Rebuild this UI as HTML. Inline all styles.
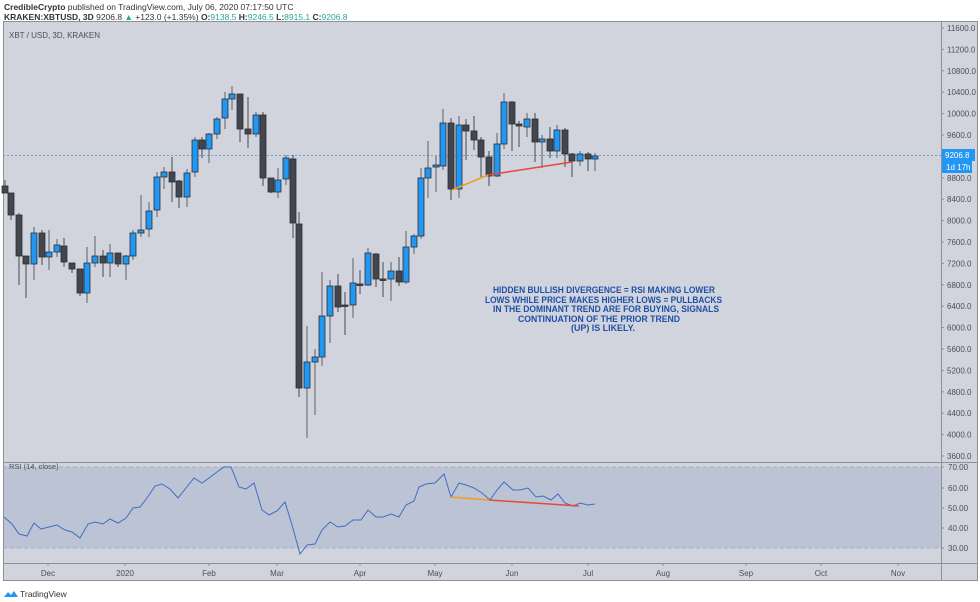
<!DOCTYPE html>
<html><head><meta charset="utf-8">
<style>
body{margin:0;background:#fff;width:980px;height:602px;overflow:hidden;font-family:"Liberation Sans",sans-serif;}
svg{position:absolute;left:0;top:0}
</style></head><body>
<svg id="s" width="980" height="602" xmlns="http://www.w3.org/2000/svg" font-family="Liberation Sans, sans-serif">
<rect x="0" y="0" width="980" height="602" fill="#ffffff"/>
<rect x="3" y="21" width="975" height="560" fill="#d1d4dc"/>
<rect x="3" y="467" width="938" height="81" fill="#bcc3d4"/>
<line x1="3" y1="467" x2="941" y2="467" stroke="#a8afc0" stroke-dasharray="4,3"/>
<line x1="3" y1="548" x2="941" y2="548" stroke="#a8afc0" stroke-dasharray="4,3"/>
<line x1="3" y1="462.5" x2="978" y2="462.5" stroke="#8c909a"/>
<line x1="3" y1="563.5" x2="978" y2="563.5" stroke="#8c909a"/>
<line x1="941.5" y1="21" x2="941.5" y2="581" stroke="#8c909a"/>
<rect x="3.5" y="21.5" width="974" height="559" fill="none" stroke="#8c909a"/>
<line x1="3" y1="155.5" x2="941" y2="155.5" stroke="#4a90d9" stroke-dasharray="2,2" stroke-width="0.8"/>
<g id="c"></g>
<line x1="452" y1="190" x2="488" y2="175" stroke="#f39c1e" stroke-width="1.5"/>
<line x1="488" y1="175" x2="572" y2="162" stroke="#e8473c" stroke-width="1.5"/>
<polyline id="rsi" fill="none" stroke="#3d6fc4" stroke-width="1"/>
<line x1="451" y1="497" x2="489" y2="500" stroke="#f39c1e" stroke-width="1.5"/>
<line x1="489" y1="500" x2="579" y2="506" stroke="#e8473c" stroke-width="1.5"/>
<g id="ax" font-size="8" fill="#4a4f5c"></g>
<rect x="942" y="149" width="33" height="12" fill="#2196f3"/>
<text x="945" y="158" font-size="8" fill="#fff">9206.8</text>
<rect x="942" y="161" width="30" height="12" fill="#2196f3"/>
<text x="946" y="170" font-size="8" fill="#fff">1d 17h</text>
<text x="9" y="38" font-size="8" fill="#4a4f5c">XBT / USD, 3D, KRAKEN</text>
<text x="9" y="469" font-size="7.5" fill="#4a4f5c">RSI (14, close)</text>
<g font-size="9.4" font-weight="bold" fill="#1f4fa8" lengthAdjust="spacingAndGlyphs">
<text x="493" y="293" textLength="222" lengthAdjust="spacingAndGlyphs">HIDDEN BULLISH DIVERGENCE = RSI MAKING LOWER</text>
<text x="485" y="303" textLength="237" lengthAdjust="spacingAndGlyphs">LOWS WHILE PRICE MAKES HIGHER LOWS = PULLBACKS</text>
<text x="493" y="312" textLength="226" lengthAdjust="spacingAndGlyphs">IN THE DOMINANT TREND ARE FOR BUYING, SIGNALS</text>
<text x="518" y="322" textLength="162" lengthAdjust="spacingAndGlyphs">CONTINUATION OF THE PRIOR TREND</text>
<text x="571" y="331" textLength="64" lengthAdjust="spacingAndGlyphs">(UP) IS LIKELY.</text>
</g>
<text x="4" y="10" font-size="8.5" fill="#333"><tspan font-weight="bold">CredibleCrypto</tspan> published on TradingView.com, July 06, 2020 07:17:50 UTC</text>
<text x="4" y="20" font-size="8.5" fill="#333"><tspan font-weight="bold">KRAKEN:XBTUSD, 3D</tspan> 9206.8 <tspan fill="#26a69a">▲</tspan> +123.0 (+1.35%) <tspan font-weight="bold">O:</tspan><tspan fill="#26a69a">9138.5</tspan> <tspan font-weight="bold">H:</tspan><tspan fill="#26a69a">9246.5</tspan> <tspan font-weight="bold">L:</tspan><tspan fill="#26a69a">8915.1</tspan> <tspan font-weight="bold">C:</tspan><tspan fill="#26a69a">9206.8</tspan></text>
<path d="M4 597 l4 -5 l3 3 l3 -4 l4 6 z" fill="#2196f3"/>
<text x="20" y="597" font-size="8.5" fill="#333">TradingView</text>
</svg>
<script>
var C=[
[5,186,193,180,193,0],[11,193,215,193,220,0],[19,215,256,213,285,0],[26,256,264,256,298,0],[34,264,233,227,280,1],[42,233,257,230,265,0],[49,257,252,230,270,1],[57,252,245,239,257,1],[64,246,262,238,267,0],[72,263,269,263,273,0],[80,269,293,269,296,0],[87,293,263,247,303,1],[95,263,256,236,267,1],[103,256,263,250,277,0],[110,263,253,244,277,1],[118,253,264,253,267,0],[126,264,256,255,280,1],[133,256,233,230,260,1],[141,233,230,195,237,1],[149,229,211,202,237,1],[157,210,177,172,217,1],[164,177,172,167,189,1],[172,172,182,157,202,0],[179,181,197,180,208,0],[187,197,173,169,207,1],[195,172,140,137,177,1],[202,140,149,137,158,0],[209,149,134,133,163,1],[217,134,119,117,139,1],[225,118,99,92,129,1],[232,99,94,86,110,1],[240,94,129,94,142,0],[248,129,134,97,148,0],[256,134,115,112,137,1],[263,115,178,112,186,0],[271,178,192,178,193,0],[278,192,180,168,198,1],[286,179,158,155,185,1],[293,159,223,155,238,0],[299,224,388,212,397,0],[307,388,362,326,438,1],[315,362,357,349,415,1],[322,357,316,272,366,1],[330,316,286,280,343,1],[338,286,307,274,312,0],[345,305,306,292,335,0],[353,305,283,258,318,1],[360,284,285,270,294,0],[368,285,253,248,286,1],[376,254,279,253,287,0],[383,279,280,262,297,0],[391,279,271,262,301,1],[399,271,282,257,286,0],[406,282,247,231,284,1],[414,247,236,234,254,1],[421,236,178,168,239,1],[428,178,168,141,198,1],[436,167,165,156,192,1],[443,166,123,109,170,1],[451,123,189,118,200,0],[459,189,125,116,198,1],[466,125,131,119,160,0],[474,131,140,116,150,0],[481,140,157,137,177,0],[489,157,176,151,186,0],[497,176,144,133,177,1],[504,144,102,93,149,1],[512,102,124,101,151,0],[519,124,126,121,147,0],[527,127,119,113,137,1],[535,119,142,113,162,0],[542,142,139,135,168,1],[550,139,151,127,158,0],[557,151,130,125,158,1],[565,130,154,128,167,0],[572,154,161,153,177,0],[580,161,154,151,166,1],[588,154,159,152,171,0],[595,159,156,153,171,1]];
var ns="http://www.w3.org/2000/svg",g=document.getElementById("c");
function el(t,a,p){var e=document.createElementNS(ns,t);for(var k in a)e.setAttribute(k,a[k]);(p||g).appendChild(e);return e;}
C.forEach(function(c){var x=c[0],t=Math.min(c[1],c[2]),b=Math.max(c[1],c[2]);if(b-t<1.5)b=t+1.5;
el("line",{x1:x,y1:c[3],x2:x,y2:c[4],stroke:c[5]?"#5d6068":"#44474f","stroke-width":1});
el("rect",{x:x-3,y:t,width:6,height:b-t,fill:c[5]?"#2196f3":"#43464f",stroke:"#2a2d35","stroke-width":0.8});});
var R=[[4,517],[12,524],[19,534],[27,536],[34,523],[41,529],[49,527],[57,525],[65,530],[72,532],[80,538],[88,524],[95,522],[103,524],[110,519],[118,523],[126,518],[133,508],[140,507],[147,498],[155,486],[162,484],[170,489],[178,498],[186,488],[194,478],[202,483],[209,478],[217,472],[224,467],[231,467],[239,487],[246,489],[254,483],[262,510],[269,515],[277,511],[285,502],[292,525],[300,554],[307,545],[315,544],[322,530],[330,522],[338,527],[345,526],[353,520],[361,520],[368,510],[376,517],[383,517],[391,514],[399,517],[406,505],[414,501],[419,487],[426,484],[435,483],[444,474],[451,497],[459,483],[466,485],[474,488],[482,493],[490,500],[497,490],[504,482],[513,490],[520,490],[528,488],[536,497],[543,496],[551,500],[558,494],[565,503],[573,506],[580,503],[588,505],[595,504]];
document.getElementById("rsi").setAttribute("points",R.map(function(p){return p.join(",")}).join(" "));
var ax=document.getElementById("ax");
for(var p=11600;p>=3600;p-=400){var y=28+(11600-p)*0.0535;if(Math.abs(y-155)<10||Math.abs(y-167)<6)continue;
el("line",{x1:941,y1:y,x2:944,y2:y,stroke:"#8c909a"},ax);var t=el("text",{x:947,y:y+3},ax);t.textContent=p+".0";}
[["70.00",467],["60.00",488],["50.00",508],["40.00",528],["30.00",548]].forEach(function(a){el("line",{x1:941,y1:a[1],x2:944,y2:a[1],stroke:"#8c909a"},ax);var t=el("text",{x:948,y:a[1]+3},ax);t.textContent=a[0];});
[["Dec",48],["2020",125],["Feb",209],["Mar",277],["Apr",360],["May",435],["Jun",512],["Jul",588],["Aug",663],["Sep",746],["Oct",821],["Nov",898]].forEach(function(a){el("line",{x1:a[1],y1:563,x2:a[1],y2:566,stroke:"#8c909a"},ax);var t=el("text",{x:a[1],y:576,"text-anchor":"middle"},ax);t.textContent=a[0];});
</script>
</body></html>
